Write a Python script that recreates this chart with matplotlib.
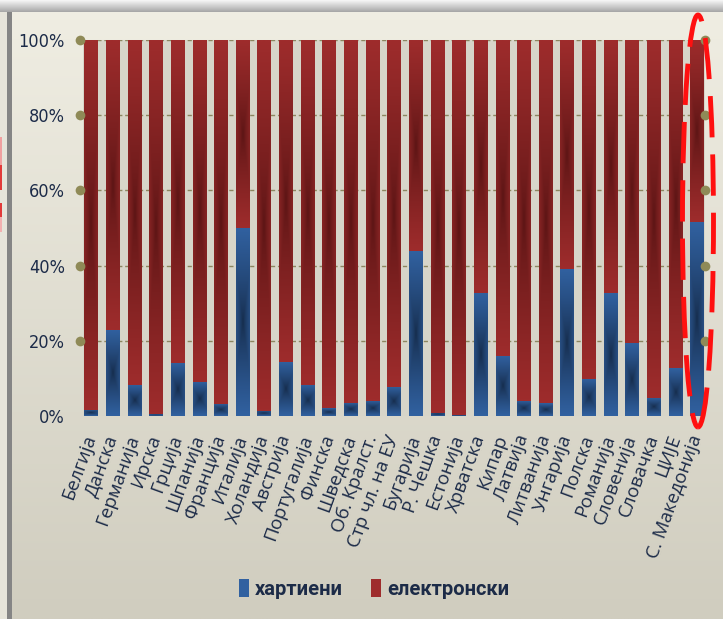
import numpy as np
import matplotlib
matplotlib.use("Agg")
import matplotlib.pyplot as plt
from matplotlib.patches import Ellipse, Rectangle, Patch
from matplotlib.colors import to_rgb

countries = ["Белгија", "Данска", "Германија", "Ирска", "Грција", "Шпанија", "Франција",
             "Италија", "Холандија", "Австрија", "Португалија", "Финска", "Шведска",
             "Об. Кралст.", "Стр чл. на ЕУ", "Бугарија", "Р. Чешка", "Естонија",
             "Хрватска", "Кипар", "Латвија", "Литванија", "Унгарија", "Полска",
             "Романија", "Словенија", "Словачка", "ЦИЈЕ", "С. Македонија"]
paper = [1.6, 23.0, 8.3, 0.5, 14.1, 9.1, 3.2, 50.0, 1.4, 14.4, 8.3, 2.1, 3.5,
         4.1, 7.8, 44.0, 0.8, 0.3, 32.8, 16.0, 4.1, 3.4, 39.1, 9.9, 32.7, 19.4,
         4.9, 12.7, 51.5]
electronic = [100 - p for p in paper]
yticks = [0, 20, 40, 60, 80, 100]

navy = "#1c2b48"
blue_edge, blue_mid = "#3161a0", "#152b4a"
red_edge, red_mid = "#9e2c2c", "#5a1414"

W, H = 723, 619
fig = plt.figure(figsize=(W / 100, H / 100), dpi=100)


def vgrad(top, bottom, n=256):
    a, b = np.array(to_rgb(top)), np.array(to_rgb(bottom))
    t = np.linspace(0, 1, n)[:, None, None]
    return (a + (b - a) * t) * np.ones((1, 2, 1))


# slide background in pixel coordinates (y down)
bg = fig.add_axes([0, 0, 1, 1], zorder=-10)
bg.imshow(vgrad("#f0eee3", "#d0cdbf"), aspect="auto", extent=(0, W, H, 0))
bg.imshow(vgrad("#f8f8f8", "#a5a5a5"), aspect="auto", extent=(0, W, 12, 0))
bg.add_patch(Rectangle((7, 12), 5, H, color="#858585", lw=0))
bg.add_patch(Rectangle((0, 12), 7, H, color="#e6e4da", lw=0))
for y0, y1, col in [(137, 165, "#f0a0a0"), (165, 190, "#e23a3a"),
                    (203, 217, "#e23a3a"), (217, 232, "#f2b0b0")]:
    bg.add_patch(Rectangle((0, y0), 2, y1 - y0, color=col, lw=0))
bg.set_xlim(0, W)
bg.set_ylim(H, 0)
bg.axis("off")

ax = fig.add_axes([83 / W, 1 - 416 / H, 622 / W, 376 / H])
ax.set_facecolor("#d7d5c9")
x = np.arange(len(countries))
bw = 0.62
b1 = ax.bar(x, paper, bw, color=blue_edge, zorder=2)
b2 = ax.bar(x, electronic, bw, bottom=paper, color=red_edge, zorder=2)


def shade(bars, edge, mid):
    e, m = np.array(to_rgb(edge)), np.array(to_rgb(mid))
    yy, xx = np.mgrid[-1:1:120j, -1:1:24j]
    t = np.maximum(np.abs(yy), np.abs(xx) * 0.55) ** 0.75
    img = m + (e - m) * t[..., None]
    for b in bars:
        bx, by = b.get_x(), b.get_y()
        bwid, bh = b.get_width(), b.get_height()
        if bh <= 0:
            continue
        ax.imshow(img, extent=(bx, bx + bwid, by, by + bh), aspect="auto",
                  zorder=3, interpolation="bilinear")


shade(b1, blue_edge, blue_mid)
shade(b2, red_edge, red_mid)

ax.set_xlim(-0.37, len(countries) - 1 + 0.37)
ax.set_ylim(0, 100)
for s in ax.spines.values():
    s.set_visible(False)

for v in yticks[1:]:
    ax.axhline(v, color="#8c8660", lw=1.0, ls=(0, (3, 2)), zorder=1)
    ax.plot([-0.005, 1.0], [v, v], "o", color="#8f8a57", ms=7, mec="none",
            transform=ax.get_yaxis_transform(), clip_on=False, zorder=5)

ax.set_yticks(yticks)
ax.set_yticklabels([f"{v}%" for v in yticks], color=navy, fontsize=13,
                   family=["DejaVu Sans"], fontstretch="condensed")
ax.tick_params(axis="y", length=0, pad=13)
ax.set_xticks(x)
ax.set_xticklabels(countries, rotation=70, ha="right", va="center",
                   rotation_mode="anchor", color=navy, fontsize=13.5,
                   family=["Open Sans", "DejaVu Sans"])
ax.tick_params(axis="x", length=0, pad=14)

handles = [Patch(facecolor=blue_edge, edgecolor="none"),
           Patch(facecolor=red_edge, edgecolor="none")]
fig.legend(handles, ["хартиени", "електронски"], loc="center",
           bbox_to_anchor=(374 / W, 1 - 589 / H), ncol=2, frameon=False,
           handlelength=0.5, handleheight=1.0, handletextpad=0.3, columnspacing=1.4,
           prop={"family": ["Roboto", "DejaVu Sans"], "weight": "bold", "size": 14.5},
           labelcolor=navy)

# red dashed highlight round the last bar
fig.patches.append(Ellipse((698 / W, 1 - 221 / H), 31 / W, 412 / H,
                           transform=fig.transFigure, fill=False, ec="#ff1010",
                           lw=3.5, ls=(0, (8.5, 3.5)), zorder=20))

fig.savefig("out.png", dpi=100)
